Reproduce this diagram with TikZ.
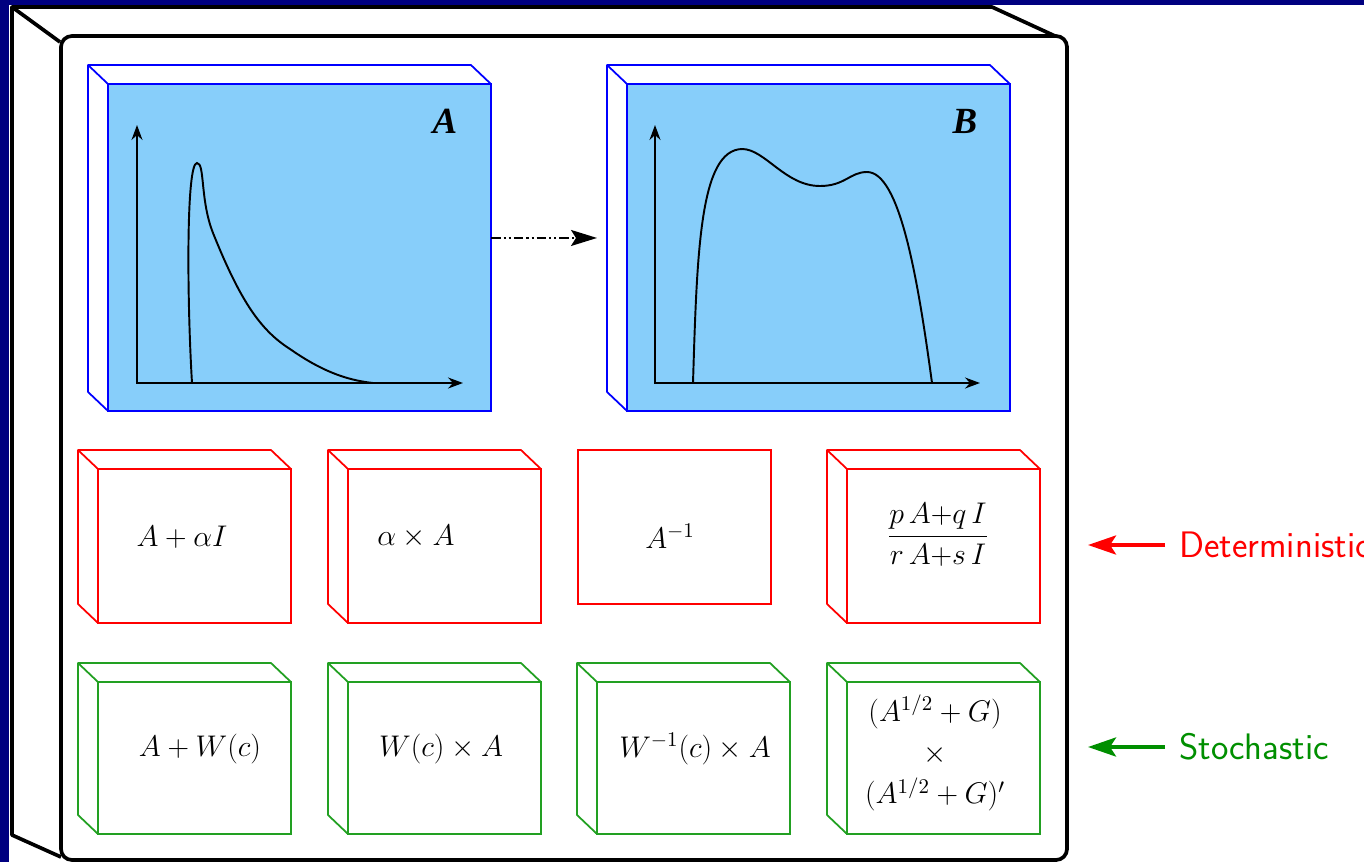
\RequirePackage{fix-cm}
\documentclass[tikz,border=0pt]{standalone}
\usepackage{amsmath}
\usepackage{fontspec}
\newfontfamily\panelfont{Liberation Serif}
\usetikzlibrary{arrows.meta,calc}
\definecolor{slideNavy}{HTML}{000080}
\definecolor{panelBlue}{HTML}{87CEFA}
\definecolor{detRed}{HTML}{FF0000}
\definecolor{stoGreen}{HTML}{22A022}
\definecolor{stoText}{HTML}{008F00}

\tikzset{
  panel/.style={draw=blue, fill=panelBlue, line width=1pt, anchor=north west,
    outer sep=0pt, inner sep=0pt, minimum width=7.66cm, minimum height=6.54cm},
  opbox/.style={draw=#1, line width=1pt, anchor=north west,
    outer sep=0pt, inner sep=0pt, minimum width=3.86cm, minimum height=3.08cm},
  stobox/.style={opbox=stoGreen, minimum height=3.04cm},
  axis/.style={line width=1.1pt, {Stealth[length=0.3cm, width=0.22cm, inset=0.1cm]}-{Stealth[length=0.3cm, width=0.22cm, inset=0.1cm]}},
  curve/.style={line width=1.1pt},
  formula/.style={font=\fontsize{17}{23.5}\selectfont, align=center, inner sep=0pt},
  panellabel/.style={font=\panelfont\bfseries\itshape\fontsize{21}{25}\selectfont},
  sidelabel/.style={font=\sffamily\fontsize{21}{25}\selectfont, anchor=west},
  sidearrow/.style={line width=2.2pt, shorten <=0.16cm,
    -{Stealth[length=0.56cm, width=0.38cm, inset=0.12cm]}},
}

\begin{document}
\begin{tikzpicture}[x=0.02cm, y=-0.02cm]
  \useasboundingbox (0,0) rectangle (1364,862);
  \fill[slideNavy] (0,0) rectangle (1364,862);
  \fill[white] (9,5) rectangle (1364,862);

  % outer box
  \draw[line width=2.1pt, line join=round] (60,42) -- (12,7) -- (992,7) -- (1055,36);
  \draw[line width=2.1pt, line join=round] (12,7) -- (12,835) -- (61,857);
  \draw[line width=2.1pt, rounded corners=0.22cm] (61,36) rectangle (1067,860);

  % the two spectra
  \node[panel] (panA) at (108,84) {};
  \node[panel] (panB) at (627,84) {};
  \node[panellabel] (labA) at (445,121) {A};
  \node[panellabel] (labB) at (965,121) {B};
  \draw[axis] (137,125) -- (137,383) -- (463,383);
  \draw[axis] (655,125) -- (655,383) -- (980,383);
  \draw[curve] (192,383) .. controls (187,300) and (186,163) .. (197,163)
    .. controls (205,163) and (200,200) .. (213,233)
    .. controls (240,300) and (260,330) .. (290,349)
    .. controls (320,370) and (345,380) .. (373,383);
  \draw[curve] (693,383) .. controls (697,250) and (700,150) .. (742,149)
    .. controls (765,149) and (785,186) .. (820,186)
    .. controls (845,186) and (850,172) .. (867,172)
    .. controls (900,172) and (918,280) .. (932,383);
  \draw[line width=1.1pt, dash pattern=on 5.5pt off 1.7pt on 1.2pt off 1.7pt on 1.2pt off 1.7pt,
    -{Stealth[length=0.52cm, width=0.32cm, inset=0.1cm]}]
    ([yshift=0.19cm]panA.east) -- ([xshift=-0.6cm, yshift=0.19cm]panB.west);

  % deterministic row
  \node[opbox=detRed] (d1) at (98,469) {};
  \node[opbox=detRed] (d2) at (348,469) {};
  \node[opbox=detRed] (d3) at (578,450) {};
  \node[opbox=detRed] (d4) at (847,469) {};

  % stochastic row
  \node[stobox] (s1) at (98,682) {};
  \node[stobox] (s2) at (348,682) {};
  \node[stobox] (s3) at (597,682) {};
  \node[stobox] (s4) at (847,682) {};

  \foreach \f/\col in {panA/blue, panB/blue, d1/detRed, d2/detRed, d4/detRed,
      s1/stoGreen, s2/stoGreen, s3/stoGreen, s4/stoGreen}
    \draw[\col, line width=1pt, line join=round] (\f.south west) -- ++(-20,-19)
      -- ($(\f.north west)+(-20,-19)$) -- ($(\f.north east)+(-20,-19)$) -- (\f.north east)
      (\f.north west) -- ++(-20,-19);

  \node[formula] (fd1) at (182,537) {$A+\alpha I$};
  \node[formula] (fd2) at (416,537) {$\alpha\times A$};
  \node[formula] (fd3) at (670,536) {$A^{-1}$};
  \node[formula] (fd4) at (938,535) {$\dfrac{p\,A{+}q\,I}{r\,A{+}s\,I}$};
  \node[formula] (fs1) at (200,749) {$A+W(c)$};
  \node[formula] (fs2) at (441,749) {$W(c)\times A$};
  \node[formula] (fs3) at (695,749) {$W^{-1}(c)\times A$};
  \node[formula] (fs4) at (935,753) {$(A^{1/2}+G)$\\$\times$\\$(A^{1/2}+G)'$};

  % legend
  \node[sidelabel, text=detRed] (detLabel) at (1173,545) {Deterministic};
  \node[sidelabel, text=stoText] (stoLabel) at (1173,747) {Stochastic};
  \coordinate (detTip) at (1088,545);
  \coordinate (stoTip) at (1088,747);
  \draw[sidearrow, detRed] (detLabel) -- (detTip);
  \draw[sidearrow, stoText] (stoLabel) -- (stoTip);
\end{tikzpicture}
\end{document}
